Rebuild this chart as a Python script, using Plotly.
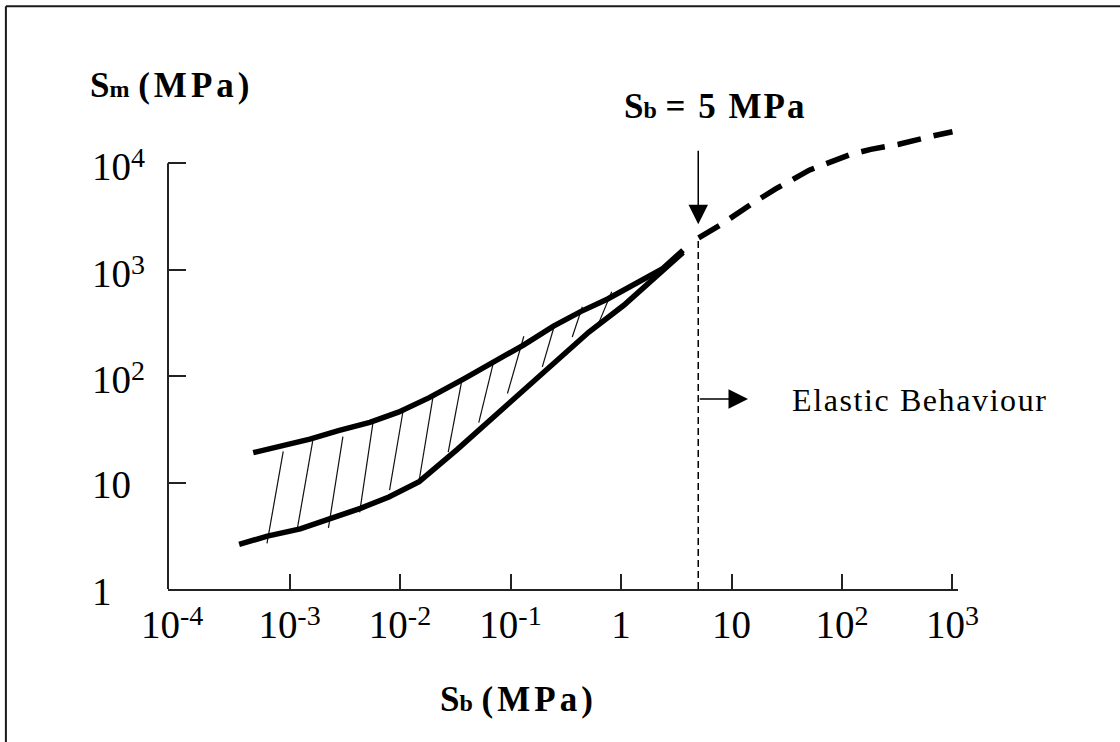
import math
import plotly.graph_objects as go

# ---------------- data ----------------
# upper boundary of the hatched band (S_b, S_m in MPa)
upper_x = [4.69e-4, 1.53e-3, 2.77e-3, 5.33e-3, 9.67e-3, 0.0184, 0.0378, 0.0678,
           0.131, 0.245, 0.431, 0.757, 1.374, 2.36, 3.64]
upper_y = [19.1, 25.6, 30.7, 36.7, 45.9, 62.8, 94.2, 132, 196, 295, 404, 531,
           755, 1016, 1524]
# lower boundary of the hatched band
lower_x = [3.50e-4, 6.30e-4, 1.25e-3, 2.27e-3, 4.38e-3, 7.93e-3, 0.0149, 0.0330,
           0.0678, 0.187, 0.509, 1.06, 1.90, 3.64]
lower_y = [2.62, 3.14, 3.67, 4.48, 5.73, 7.32, 10.2, 20.5, 40.2, 104.6, 258, 463,
           786, 1455]
# dashed extension (elastic range)
elastic_x = [5.04, 8.11, 15.4, 25.1, 50.5, 77.1, 118, 182, 327, 667, 1000]
elastic_y = [1995, 2673, 4188, 5741, 8610, 10070, 12050, 13490, 15100, 18070, 19770]
# hatch strokes: start (x0, y0) to end (x1, y1)
hatch_x0 = [6.25e-4, 1.18e-3, 2.25e-3, 4.31e-3, 8.04e-3, 0.01475, 0.0273, 0.0516,
            0.0938, 0.194, 0.362, 0.603]
hatch_y0 = [2.68, 3.75, 3.75, 5.24, 8.50, 9.85, 19.3, 36.5, 68.7, 122, 233, 284]
hatch_x1 = [8.77e-4, 1.62e-3, 3.04e-3, 5.69e-3, 0.01066, 0.0200, 0.0361, 0.0700,
            0.132, 0.247, 0.447, 0.824]
hatch_y1 = [19.6, 24.5, 27.0, 36.5, 47.3, 66.2, 89.4, 134, 237, 288, 448, 621]
# S_b limit line
sb_limit = 5
limit_y = [1, 1995]
arrow_tip_y = 2673
elastic_arrow_tip_x = 14.1

SUP = "<span style='font-size:28px;baseline-shift:13px'>{}</span>"
x_tickvals = [1e-3, 1e-2, 1e-1, 1, 10, 100, 1000]
x_ticktext = ["10" + SUP.format("-3"), "10" + SUP.format("-2"), "10" + SUP.format("-1"),
              "1", "10", "10" + SUP.format("2"), "10" + SUP.format("3")]
y_tickvals = [1, 10, 100, 1000, 10000]
y_ticktext = ["1", "10", "10" + SUP.format("2"), "10" + SUP.format("3"),
              "10" + SUP.format("4")]

# ---------------- geometry ----------------
FW, FH = 1120, 742
XR = [-4.1, 3.05]
YR = [0.0, 4.35]
L = 168
PXX = 784 / 7.1          # px per decade (x)
W = (XR[1] - XR[0]) * PXX
R = FW - L - W
BOT = 589
PXY = 106.5
H = (YR[1] - YR[0]) * PXY
T = BOT - H
B = FH - BOT


def xp(px):
    return (px - L) / W


def yp(py):
    return (BOT - py) / H


SERIF = "Liberation Serif"
INK = "#111111"

fig = go.Figure()

# hatch strokes
hx, hy = [], []
for a, b, c, d in zip(hatch_x0, hatch_y0, hatch_x1, hatch_y1):
    hx += [a, c, None]
    hy += [b, d, None]
fig.add_trace(go.Scatter(x=hx, y=hy, mode="lines",
                         line=dict(color=INK, width=1.2), hoverinfo="skip"))

fig.add_trace(go.Scatter(x=upper_x, y=upper_y, mode="lines",
                         line=dict(color="black", width=5.5)))
fig.add_trace(go.Scatter(x=lower_x, y=lower_y, mode="lines",
                         line=dict(color="black", width=5.5)))
fig.add_trace(go.Scatter(x=elastic_x, y=elastic_y, mode="lines",
                         line=dict(color="black", width=5.5, dash="24px,13px")))
fig.add_trace(go.Scatter(x=[sb_limit, sb_limit], y=limit_y, mode="lines",
                         line=dict(color="black", width=1.5, dash="7px,4px")))


def spaced(txt, px):
    return "<span style='letter-spacing:{}px'>{}</span>".format(px, txt)


annotations = []
# y tick labels (left aligned)
for v, t in zip(y_tickvals, y_ticktext):
    annotations.append(dict(x=xp(90), xref="paper", y=math.log10(v), yref="y",
                            text=t, showarrow=False, xanchor="left", yanchor="middle",
                            yshift=-2, font=dict(family=SERIF, size=39, color="black")))
# 10^-4 label at the origin
annotations.append(dict(x=xp(172), xref="paper", y=yp(623), yref="paper",
                        text="10" + SUP.format("-4"),
                        showarrow=False, xanchor="center", yanchor="middle",
                        font=dict(family=SERIF, size=39, color="black")))
# titles
annotations.append(dict(x=xp(88), xref="paper", y=yp(85), yref="paper",
                        text="<b>S<span style='font-size:24px'>m</span> "
                             + spaced("(MPa)", 4) + "</b>",
                        showarrow=False, xanchor="left", yanchor="middle",
                        font=dict(family=SERIF, size=35, color="black")))
annotations.append(dict(x=xp(438), xref="paper", y=yp(700), yref="paper",
                        text="<b>S<span style='font-size:24px'>b</span> "
                             + spaced("(MPa)", 4) + "</b>",
                        showarrow=False, xanchor="left", yanchor="middle",
                        font=dict(family=SERIF, size=35, color="black")))
annotations.append(dict(x=xp(622), xref="paper", y=yp(106), yref="paper",
                        text="<b>S<span style='font-size:24px'>b</span> "
                             + spaced("= 5 MPa", 2) + "</b>",
                        showarrow=False, xanchor="left", yanchor="middle",
                        font=dict(family=SERIF, size=35, color="black")))
annotations.append(dict(x=xp(790), xref="paper", y=yp(400), yref="paper",
                        text=spaced("Elastic Behaviour", 1.6), showarrow=False,
                        xanchor="left", yanchor="middle",
                        font=dict(family=SERIF, size=32, color="black")))
# arrows
annotations.append(dict(x=math.log10(sb_limit), xref="x", y=math.log10(arrow_tip_y), yref="y",
                        ax=0, ay=-75, axref="pixel", ayref="pixel", text="",
                        showarrow=True, arrowhead=2, arrowsize=2.6, arrowwidth=1.5,
                        arrowcolor="black"))
annotations.append(dict(x=math.log10(elastic_arrow_tip_x), xref="x", y=yp(399), yref="paper",
                        ax=math.log10(sb_limit), axref="x", ay=0, ayref="pixel", text="",
                        showarrow=True, arrowhead=2, arrowsize=2.6, arrowwidth=1.5,
                        arrowcolor="black"))

shapes = [
    # y-axis line from 1 to 10^4
    dict(type="line", xref="paper", yref="paper", x0=0, x1=0, y0=0,
         y1=(4 - YR[0]) / (YR[1] - YR[0]), line=dict(color="#222222", width=2)),
    # page frame (top and left)
    dict(type="line", xref="paper", yref="paper", x0=xp(6), x1=xp(1140), y0=yp(6), y1=yp(6),
         line=dict(color="#1a1a1a", width=2)),
    dict(type="line", xref="paper", yref="paper", x0=xp(6), x1=xp(6), y0=yp(6), y1=yp(760),
         line=dict(color="#1a1a1a", width=2)),
]

fig.update_layout(
    width=FW, height=FH,
    margin=dict(l=L, r=R, t=T, b=B, pad=0),
    paper_bgcolor="white", plot_bgcolor="white",
    showlegend=False,
    hovermode=False,
    annotations=annotations,
    shapes=shapes,
    xaxis=dict(type="log", range=XR, showgrid=False, zeroline=False,
               showline=True, linecolor="#222222", linewidth=2,
               ticks="inside", ticklen=15, tickwidth=2, tickcolor="#222222",
               tickvals=x_tickvals, ticktext=x_ticktext,
               tickfont=dict(family=SERIF, size=39, color="black")),
    yaxis=dict(type="log", range=YR, showgrid=False, zeroline=False,
               showline=False, ticks="inside", ticklen=18, tickwidth=2,
               tickcolor="#222222", tickvals=y_tickvals[1:], showticklabels=False),
)

fig.write_html("out.html",
               config={"displayModeBar": False, "staticPlot": True},
               post_script="document.body.style.margin='0px';"
                           "document.body.style.overflow='hidden';")
